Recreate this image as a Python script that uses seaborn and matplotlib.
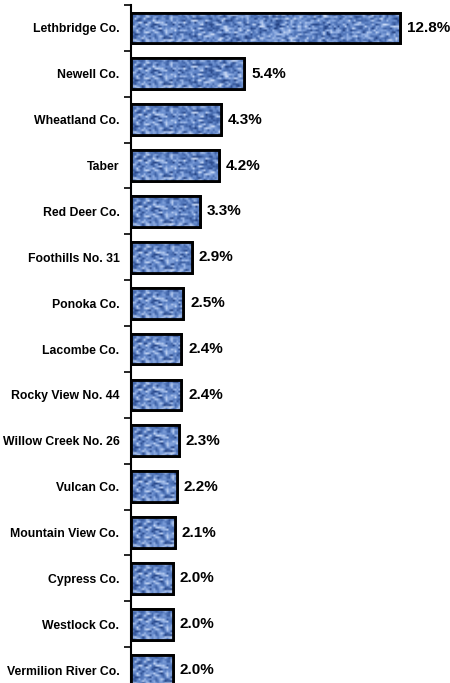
import numpy as np
import pandas as pd
import matplotlib
matplotlib.use("Agg")
import matplotlib.pyplot as plt
from matplotlib.patches import Rectangle
from matplotlib.colors import LinearSegmentedColormap
import seaborn as sns

# data
areas = ["Lethbridge Co.", "Newell Co.", "Wheatland Co.", "Taber", "Red Deer Co.",
         "Foothills No. 31", "Ponoka Co.", "Lacombe Co.", "Rocky View No. 44",
         "Willow Creek No. 26", "Vulcan Co.", "Mountain View Co.", "Cypress Co.",
         "Westlock Co.", "Vermilion River Co."]
shares = [12.8, 5.4, 4.3, 4.2, 3.3, 2.9, 2.5, 2.4, 2.4, 2.3, 2.2, 2.1, 2.0, 2.0, 2.0]

df = pd.DataFrame({"area": areas, "share": shares})

sns.set_style("white")
plt.rcParams["font.family"] = ["Liberation Sans", "DejaVu Sans"]
plt.rcParams["text.color"] = "black"
plt.rcParams["ytick.color"] = "black"

fig = plt.figure(figsize=(4.5, 6.83), dpi=100)
ax = fig.add_axes([0.29, 0.0, 0.703, 0.9927])

sns.barplot(data=df, x="share", y="area", orient="h", color="#5577bd",
            width=0.67, edgecolor="black", linewidth=2, ax=ax)

# mottled blue "fabric" fill inside each bar (just decoration)
cloth = LinearSegmentedColormap.from_list(
    "cloth", ["#213f80", "#4367ab", "#6287c9", "#94b1e4", "#cddcf5"])
rng = np.random.default_rng(7)
tex = rng.random((16, 240))
tex = (tex + np.roll(tex, 1, axis=1)) / 2  # horizontal streaks
for p in list(ax.patches):
    x0, y0 = p.get_x(), p.get_y()
    w, h = p.get_width(), p.get_height()
    ncol = max(4, int(w * 21 / 1.8))
    im = ax.imshow(tex[:, :ncol], cmap=cloth, vmin=0.08, vmax=0.95, aspect="auto",
                   interpolation="bilinear", extent=(x0, x0 + w, y0 + h, y0), zorder=2.5)
    im.set_clip_path(p)
    ax.add_patch(Rectangle((x0, y0), w, h, fill=False, edgecolor="black",
                           linewidth=2, zorder=3))

ax.bar_label(ax.containers[0], fmt="%.1f%%", padding=5, fontsize=11,
             fontweight="bold", clip_on=False)

ax.set_xlabel("")
ax.set_ylabel("")
ax.set_xticks([])
ax.set_yticks(np.arange(-0.5, 15, 1), minor=True)
ax.set_xlim(0, 15)
ax.set_ylim(14.28, -0.5)
ax.tick_params(axis="y", which="major", length=0, pad=8, labelsize=8.8)
ax.tick_params(axis="y", which="minor", left=True, length=5, width=1.2, color="black")
for lab in ax.get_yticklabels():
    lab.set_fontweight("bold")

sns.despine(ax=ax, top=True, right=True, bottom=True)
ax.spines["left"].set_color("black")
ax.spines["left"].set_linewidth(1.5)

fig.savefig("out.png", dpi=100)
